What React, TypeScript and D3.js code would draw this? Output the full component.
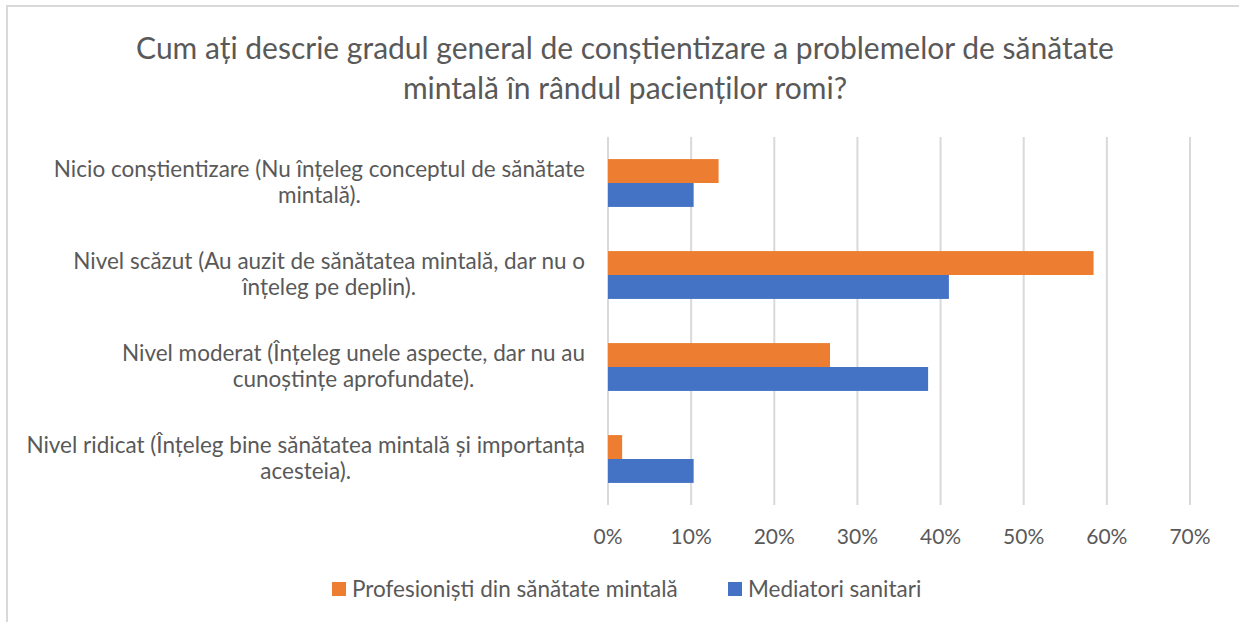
import React, { useEffect, useRef } from "react";
import * as d3 from "d3";

const categories = [
  "Nicio conștientizare (Nu înțeleg conceptul de sănătate|mintală).",
  "Nivel scăzut (Au auzit de sănătatea mintală, dar nu o|înțeleg pe deplin).",
  "Nivel moderat (Înțeleg unele aspecte, dar nu au|cunoștințe aprofundate).",
  "Nivel ridicat (Înțeleg bine sănătatea mintală și importanța|acesteia).",
];
const seriesNames = ["Profesioniști din sănătate mintală", "Mediatori sanitari"];
const profesionisti = [13.3, 58.4, 26.7, 1.7];
const mediatori = [10.3, 41.0, 38.5, 10.3];
const ticks = [0, 10, 20, 30, 40, 50, 60, 70];
const colors = ["#ED7D31", "#4472C4"];

const W = 1239;
const H = 622;
const FONT = "Lato, 'Open Sans', sans-serif";

const App = () => {
  const ref = useRef<SVGSVGElement>(null);

  useEffect(() => {
    const svg = d3.select(ref.current);
    svg.selectAll("*").remove();

    // chart border (only top and left visible in the crop)
    svg.append("rect")
      .attr("x", 7).attr("y", 6)
      .attr("width", W + 20).attr("height", H + 20)
      .style("fill", "white")
      .style("stroke", "#D9D9D9")
      .style("stroke-width", "2px");

    const left = 608, right = 1190, top = 137, bottom = 505;

    const x = d3.scaleLinear().domain([0, 70]).range([left, right]);
    const y = d3.scaleBand<number>()
      .domain(d3.range(categories.length))
      .range([top, bottom])
      .paddingInner(0.48).paddingOuter(0.24);
    const inner = d3.scaleBand<number>().domain([0, 1]).range([0, y.bandwidth()]);

    // title
    const title = svg.append("text")
      .attr("text-anchor", "middle")
      .style("font-family", FONT)
      .style("font-size", "30px")
      .style("fill", "#595959");
    title.append("tspan").attr("x", 625).attr("y", 59)
      .text("Cum ați descrie gradul general de conștientizare a problemelor de sănătate");
    title.append("tspan").attr("x", 625).attr("y", 99)
      .text("mintală în rândul pacienților romi?");

    // gridlines
    svg.selectAll(".grid")
      .data(ticks)
      .enter()
      .append("line")
      .attr("x1", d => x(d)).attr("x2", d => x(d))
      .attr("y1", top).attr("y2", bottom)
      .style("stroke", "#D9D9D9")
      .style("stroke-width", "2px");

    // tick labels
    svg.selectAll(".tick")
      .data(ticks)
      .enter()
      .append("text")
      .attr("x", d => x(d))
      .attr("y", 544)
      .attr("text-anchor", "middle")
      .style("font-family", FONT)
      .style("font-size", "21px")
      .style("fill", "#595959")
      .text(d => d + "%");

    // bars
    const data = [profesionisti, mediatori];
    data.forEach((vals, s) => {
      svg.selectAll(".bar" + s)
        .data(vals)
        .enter()
        .append("rect")
        .attr("x", x(0))
        .attr("y", (d, i) => (y(i) as number) + (inner(s) as number))
        .attr("width", d => x(d) - x(0))
        .attr("height", inner.bandwidth())
        .style("fill", colors[s]);
    });

    // category labels, block right-aligned, lines centered
    categories.forEach((c, i) => {
      const lines = c.split("|");
      const g = svg.append("text")
        .attr("text-anchor", "middle")
        .style("font-family", FONT)
        .style("font-size", "22.5px")
        .style("fill", "#595959");
      const cy = (y(i) as number) + y.bandwidth() / 2;
      const spans = lines.map((l, k) =>
        g.append("tspan").attr("y", cy + (k - (lines.length - 1) / 2) * 26 + 7).text(l)
      );
      const maxW = d3.max(spans, sp => (sp.node() as SVGTSpanElement).getComputedTextLength()) || 0;
      spans.forEach(sp => sp.attr("x", 585 - maxW / 2));
    });

    // legend
    const legendX = [332, 728];
    seriesNames.forEach((n, s) => {
      svg.append("rect")
        .attr("x", legendX[s]).attr("y", 582)
        .attr("width", 14).attr("height", 14)
        .style("fill", colors[s]);
      svg.append("text")
        .attr("x", legendX[s] + 20).attr("y", 597)
        .style("font-family", FONT)
        .style("font-size", "22.5px")
        .style("fill", "#595959")
        .text(n);
    });
  }, []);

  return (
    <svg
      ref={ref}
      width={W}
      height={H}
      style={{ position: "absolute", left: 0, top: 0, background: "white" }}
    />
  );
};

export default App;
